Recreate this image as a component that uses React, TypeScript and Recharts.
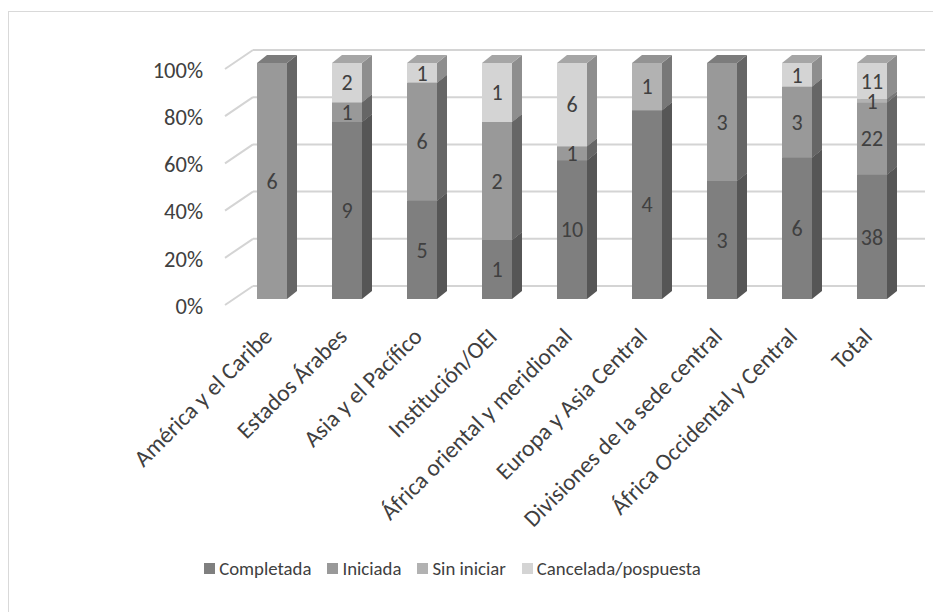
import React from "react";
import { BarChart, Bar, XAxis, YAxis, CartesianGrid, LabelList } from "recharts";

// categories and counts per status
const categories = [
  "América y el Caribe",
  "Estados Árabes",
  "Asia y el Pacífico",
  "Institución/OEI",
  "África oriental y meridional",
  "Europa y Asia Central",
  "Divisiones de la sede central",
  "África Occidental y Central",
  "Total",
];
const completada = [0, 9, 5, 1, 10, 4, 3, 6, 38];
const iniciada = [6, 1, 6, 2, 1, 0, 3, 3, 22];
const sinIniciar = [0, 0, 0, 0, 0, 1, 0, 0, 1];
const cancelada = [0, 2, 1, 1, 6, 0, 0, 1, 11];
const yTicks = [0, 0.2, 0.4, 0.6, 0.8, 1];

const data = categories.map((name, i) => ({
  name,
  completada: completada[i],
  iniciada: iniciada[i],
  sinIniciar: sinIniciar[i],
  cancelada: cancelada[i],
}));

const SERIES = [
  { key: "completada", name: "Completada", front: "#7f7f7f", side: "#565656", top: "#6a6a6a" },
  { key: "iniciada", name: "Iniciada", front: "#999999", side: "#666666", top: "#7c7c7c" },
  { key: "sinIniciar", name: "Sin iniciar", front: "#b2b2b2", side: "#787878", top: "#939393" },
  { key: "cancelada", name: "Cancelada/pospuesta", front: "#d4d4d4", side: "#8e8e8e", top: "#a6a6a6" },
];

const FONT = "Calibri, Carlito, Lato, sans-serif";
const TEXT = "#404040";
const GRID = "#d4d4d4";
const DX = 10; // 3d depth
const DY = 8;

function makeShape(s: (typeof SERIES)[number]) {
  return (props: any) => {
    const { x, y, width, height } = props;
    if (!height || height < 0.5) return <g />;
    return (
      <g>
        <rect x={x} y={y} width={width} height={height} fill={s.front} />
        <polygon
          points={`${x + width},${y} ${x + width + DX},${y - DY} ${x + width + DX},${y + height - DY} ${x + width},${y + height}`}
          fill={s.side}
        />
        <polygon
          points={`${x},${y} ${x + DX},${y - DY} ${x + width + DX},${y - DY} ${x + width},${y}`}
          fill={s.top}
        />
      </g>
    );
  };
}

// back wall line + diagonal floor edge on the left
const gridLine = (props: any) => {
  const { x1, x2, y1, key } = props;
  return (
    <g key={key}>
      <line x1={x1 - 9.5} y1={y1 + 6} x2={x1 + 18.5} y2={y1 - 13} stroke={GRID} strokeWidth={2} />
      <line x1={x1 + 18.5} y1={y1 - 13} x2={x2 + 15.5} y2={y1 - 13} stroke={GRID} strokeWidth={2} />
    </g>
  );
};

const YTick = (props: any) => {
  const { y, payload } = props;
  return (
    <text x={195} y={y + 7} dy="0.35em" textAnchor="end" fill={TEXT} fontSize={22.5} fontFamily={FONT}>
      {Math.round(payload.value * 100)}%
    </text>
  );
};

const XTick = (props: any) => {
  const { x, payload } = props;
  const px = x + 1.5;
  const py = 330;
  return (
    <text
      x={px}
      y={py}
      textAnchor="end"
      transform={`rotate(-45, ${px}, ${py})`}
      fill={TEXT}
      fontSize={23.5}
      fontFamily={FONT}
    >
      {payload.value}
    </text>
  );
};

export default function App() {
  return (
    <div style={{ position: "relative", width: 933, height: 604, overflow: "hidden", fontFamily: FONT }}>
      <div
        style={{
          position: "absolute",
          left: 0,
          top: 3,
          width: 1000,
          height: 1000,
          border: "1px solid #d9d9d9",
        }}
      />
      <div style={{ position: "absolute", left: 0, top: 0 }}>
        <BarChart
          width={933}
          height={604}
          data={data}
          stackOffset="expand"
          barCategoryGap="30%"
          margin={{ top: 55, right: 31.5, left: 166.5, bottom: 283 }}
        >
          <CartesianGrid horizontal={gridLine} vertical={false} />
          <XAxis dataKey="name" height={30} interval={0} axisLine={false} tickLine={false} tick={XTick} />
          <YAxis
            type="number"
            domain={[0, 1]}
            ticks={yTicks}
            width={60}
            axisLine={false}
            tickLine={false}
            tick={YTick}
          />
          {SERIES.map((s) => (
            <Bar
              key={s.key}
              dataKey={s.key}
              name={s.name}
              stackId="a"
              fill={s.front}
              shape={makeShape(s)}
              isAnimationActive={false}
            >
              <LabelList
                dataKey={s.key}
                position="center"
                fill={TEXT}
                fontSize={22}
                fontFamily={FONT}
                formatter={(v: any) => (v ? v : "")}
              />
            </Bar>
          ))}
        </BarChart>
      </div>
      <div
        style={{
          position: "absolute",
          left: 0,
          top: 548,
          width: 889,
          height: 24,
          display: "flex",
          justifyContent: "center",
          alignItems: "center",
          gap: 16,
          fontSize: 18.8,
          color: TEXT,
        }}
      >
        {SERIES.map((s) => (
          <div key={s.key} style={{ display: "flex", alignItems: "center" }}>
            <span style={{ display: "inline-block", width: 11, height: 11, background: s.front, marginRight: 4 }} />
            <span>{s.name}</span>
          </div>
        ))}
      </div>
    </div>
  );
}
